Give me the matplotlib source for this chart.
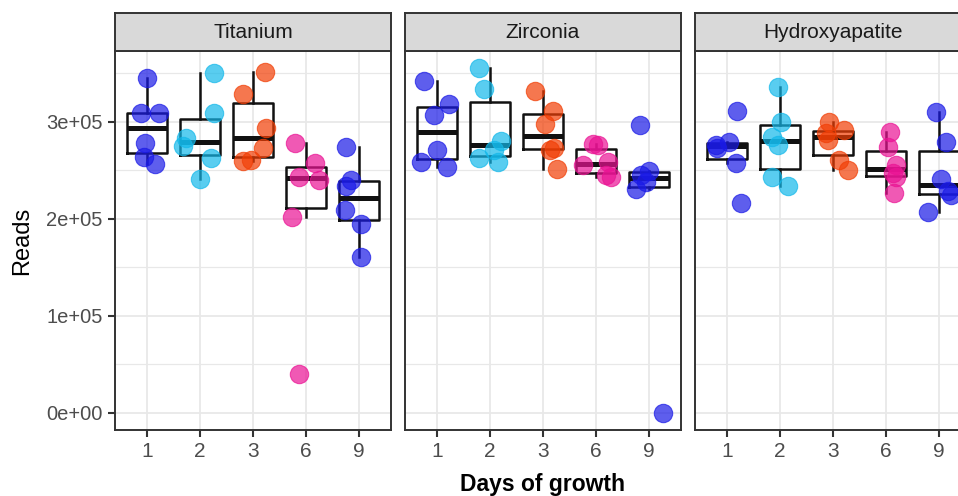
import matplotlib
matplotlib.use("Agg")
import matplotlib.pyplot as plt
import numpy as np

plt.rcParams['font.family'] = ['Liberation Sans', 'DejaVu Sans']

# ---------------- data ----------------
materials = ["Titanium", "Zirconia", "Hydroxyapatite"]
days = ["1", "2", "3", "6", "9"]
day_colors = ["#1A1AE6", "#13B8EA", "#F13E05", "#EA1394", "#1A1AE6"]

titanium_reads = [
    [345000, 309000, 309000, 278000, 264000, 256000],
    [350000, 309000, 283000, 275000, 263000, 241000],
    [351000, 328000, 293000, 273000, 260000, 259000],
    [278000, 257000, 243000, 240000, 202000, 40000],
    [274000, 240000, 234000, 209000, 195000, 161000],
]
zirconia_reads = [
    [342000, 318000, 307000, 271000, 258000, 253000],
    [355000, 334000, 280000, 271000, 262000, 258000],
    [332000, 311000, 298000, 273000, 271000, 251000],
    [277000, 276000, 258000, 255000, 245000, 243000],
    [297000, 249000, 245000, 238000, 231000, 0],
]
hydroxyapatite_reads = [
    [311000, 279000, 276000, 273000, 257000, 216000],
    [336000, 300000, 284000, 276000, 243000, 234000],
    [300000, 291000, 288000, 281000, 260000, 250000],
    [289000, 274000, 255000, 247000, 243000, 226000],
    [310000, 279000, 241000, 228000, 224000, 207000],
]
reads = [titanium_reads, zirconia_reads, hydroxyapatite_reads]

# horizontal jitter offsets
jitter = [
    [[0.01, -0.11, 0.22, -0.03, -0.05, 0.16],
     [0.27, 0.27, -0.26, -0.32, 0.21, 0.00],
     [0.23, -0.19, 0.25, 0.18, -0.04, -0.19],
     [-0.21, 0.16, -0.13, 0.25, -0.27, -0.13],
     [-0.25, -0.15, -0.25, -0.26, 0.03, 0.04]],
    [[-0.25, 0.23, -0.05, 0.01, -0.29, 0.20],
     [-0.20, -0.11, 0.21, 0.08, -0.20, 0.16],
     [-0.16, 0.18, 0.04, 0.21, 0.13, 0.26],
     [-0.06, 0.03, 0.22, -0.25, 0.19, 0.28],
     [-0.17, -0.01, -0.15, -0.06, -0.25, 0.26]],
    [[0.20, 0.04, -0.21, -0.18, 0.17, 0.26],
     [-0.04, 0.02, -0.14, -0.04, -0.14, 0.15],
     [-0.08, 0.20, -0.13, -0.10, 0.11, 0.28],
     [0.08, 0.03, 0.19, 0.13, 0.19, 0.15],
     [-0.06, 0.13, 0.04, 0.17, 0.23, -0.21]],
]

y_ticks = [0, 100000, 200000, 300000]
y_ticklabels = ["0e+00", "1e+05", "2e+05", "3e+05"]
x_label = "Days of growth"
y_label = "Reads"

# ---------------- layout ----------------
W, H = 958, 496
fig = plt.figure(figsize=(W / 100, H / 100), dpi=100)
fig.patch.set_facecolor("white")

panel_lefts = [115, 405, 695]
panel_w = 276
panel_top, panel_bottom = 51, 430
strip_top = 13

border_col = "#333333"
grid_col = "#E8E8E8"
tick_col = "#4D4D4D"

all_vals = np.concatenate([np.ravel(r) for r in reads])
ymin, ymax = all_vals.min(), all_vals.max()
pad = 0.05 * (ymax - ymin)

for p, mat in enumerate(materials):
    left = panel_lefts[p]
    ax = fig.add_axes([left / W, 1 - panel_bottom / H, panel_w / W,
                       (panel_bottom - panel_top) / H])
    ax.set_xlim(-0.6, len(days) - 0.4)
    ax.set_ylim(ymin - pad, ymax + pad)

    # grid
    for yv in y_ticks:
        ax.axhline(yv, color=grid_col, lw=1.3, zorder=0)
    for yv in [50000, 150000, 250000, 350000]:
        ax.axhline(yv, color=grid_col, lw=0.9, zorder=0)
    for i in range(len(days)):
        ax.axvline(i, color=grid_col, lw=1.3, zorder=0)

    # boxplots
    ax.boxplot(reads[p], positions=range(len(days)), widths=0.75,
               whis=1.5, showfliers=False, showcaps=False,
               boxprops=dict(color="#111111", lw=1.8),
               whiskerprops=dict(color="#111111", lw=1.8),
               medianprops=dict(color="#111111", lw=3.6, solid_capstyle="butt"),
               zorder=2, manage_ticks=False)

    # jittered points
    for i in range(len(days)):
        xs = i + np.array(jitter[p][i])
        ax.scatter(xs, reads[p][i], s=175, color=day_colors[i], alpha=0.7,
                   edgecolors=day_colors[i], linewidths=0.8, zorder=3)

    ax.set_xticks(range(len(days)))
    ax.set_xticklabels(days)
    ax.tick_params(axis="x", length=5, width=1.5, color=border_col,
                   labelsize=15, labelcolor=tick_col, pad=3.5)
    if p == 0:
        ax.set_yticks(y_ticks)
        ax.set_yticklabels(y_ticklabels)
        ax.tick_params(axis="y", length=5, width=1.5, color=border_col,
                       labelsize=14.5, labelcolor=tick_col, pad=4)
    else:
        ax.set_yticks([])
    for s in ax.spines.values():
        s.set_color(border_col)
        s.set_linewidth(1.4)
    ax.set_facecolor("white")

    # strip
    sax = fig.add_axes([left / W, 1 - panel_top / H, panel_w / W,
                        (panel_top - strip_top) / H])
    sax.set_facecolor("#D9D9D9")
    sax.set_xticks([])
    sax.set_yticks([])
    for s in sax.spines.values():
        s.set_color(border_col)
        s.set_linewidth(1.4)
    sax.text(0.5, 0.5, mat, ha="center", va="center", fontsize=15,
             color="#1A1A1A", transform=sax.transAxes)

# axis titles
center_x = (panel_lefts[0] + panel_lefts[-1] + panel_w) / 2
fig.text(center_x / W, 1 - 485 / H, x_label, ha="center", va="center",
         fontsize=16.5, fontweight="bold", color="black")
fig.text(22 / W, 1 - (panel_top + panel_bottom) / 2 / H, y_label,
         ha="center", va="center", rotation=90, fontsize=17, color="black")

fig.savefig("out.png", dpi=100)
